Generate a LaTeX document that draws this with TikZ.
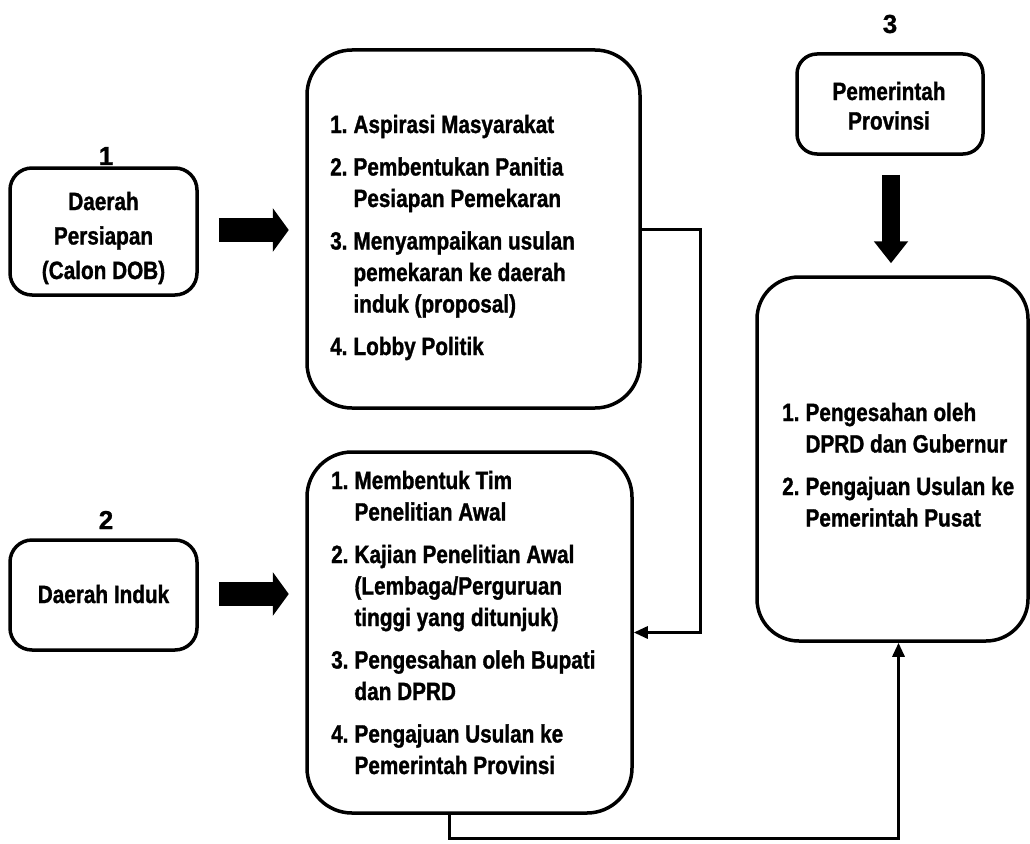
\documentclass[tikz,border=0pt]{standalone}
\usepackage{fontspec}
\setmainfont{Liberation Sans}
\newfontfamily\narbold{Liberation Sans Bold}[FakeStretch=0.83, FakeBold=1.2]
\newfontfamily\widefont{Liberation Sans Bold}[FakeBold=1]
\usetikzlibrary{arrows.meta,calc}
\tikzset{
  box/.style={draw, line width=3.5pt, rounded corners=#1, inner sep=0pt},
  box/.default=40pt,
  txt/.style={inner sep=0pt, font=\fontsize{25}{31.5}\narbold},
  num/.style={inner sep=0pt, font=\fontsize{26}{30}\widefont},
  blockarrow/.style={line width=24pt, -{Triangle[length=16pt,width=43pt]}},
  downarrow/.style={line width=18pt, -{Triangle[length=22pt,width=33pt]}},
  conn/.style={line width=3pt, -{Triangle[length=14pt,width=12pt]}}
}
\begin{document}
\begin{tikzpicture}[x=1pt,y=-1pt]
\useasboundingbox (0,0) rectangle (1030,843);
% boxes
\node[box=22pt, minimum width=187pt, minimum height=127pt] (b1) at (103.5,231.5) {};
\node[box=22pt, minimum width=187pt, minimum height=110pt] (b2) at (103.5,595) {};
\node[box=20pt, minimum width=186pt, minimum height=100pt] (b3) at (890,104) {};
\node[box=45pt, minimum width=333pt, minimum height=358pt] (A) at (473.5,229) {};
\node[box=45pt, minimum width=325pt, minimum height=361pt] (B) at (469.5,632.5) {};
\node[box=42pt, minimum width=271pt, minimum height=364pt] (C) at (892.5,459) {};
% labels
\node[num] (n1) at (106,156) {1};
\node[num] (n2) at (106,520) {2};
\node[num] (n3) at (890,24) {3};
% box texts
\node[txt, anchor=base] (t1) at (103.5,210) {\begin{tabular}[t]{@{}c@{}}Daerah\\[3pt]Persiapan\\[3pt](Calon DOB)\end{tabular}};
\node[txt, anchor=base] (t2) at (103.5,603) {Daerah Induk};
\node[txt, anchor=base] (t3) at (889,100) {\begin{tabular}[t]{@{}c@{}}Pemerintah\\[-2pt]Provinsi\end{tabular}};
\node[txt, anchor=base west] (tA) at (330,133) {\begin{tabular}[t]{@{}l@{\hspace{6pt}}l@{}}
1.&Aspirasi Masyarakat\\[11pt]
2.&Pembentukan Panitia\\
  &Pesiapan Pemekaran\\[11pt]
3.&Menyampaikan usulan\\
  &pemekaran ke daerah\\
  &induk (proposal)\\[11pt]
4.&Lobby Politik
\end{tabular}};
\node[txt, anchor=base west] (tB) at (331,489) {\begin{tabular}[t]{@{}l@{\hspace{6pt}}l@{}}
1.&Membentuk Tim\\
  &Penelitian Awal\\[11pt]
2.&Kajian Penelitian Awal\\
  &(Lembaga/Perguruan\\
  &tinggi yang ditunjuk)\\[11pt]
3.&Pengesahan oleh Bupati\\
  &dan DPRD\\[11pt]
4.&Pengajuan Usulan ke\\
  &Pemerintah Provinsi
\end{tabular}};
\node[txt, anchor=base west] (tC) at (782,421) {\begin{tabular}[t]{@{}l@{\hspace{6pt}}l@{}}
1.&Pengesahan oleh\\
  &DPRD dan Gubernur\\[11pt]
2.&Pengajuan Usulan ke\\
  &Pemerintah Pusat
\end{tabular}};
% block arrows
\draw[blockarrow] ($(b1.east)+(20,-1.5)$) -- ($(b1.east)+(90,-1.5)$);
\draw[blockarrow] ($(b2.east)+(20,-1)$) -- ($(b2.east)+(90,-1)$);
\draw[downarrow] ($(b3.south)+(1,19)$) -- ($(C.north)+(-1.5,-12)$);
% connectors
\draw[conn] (A.east) -- (700,229) |- (B.east);
\coordinate (k1) at (449,838);
\draw[conn] (B.south -| k1) -- (k1) -| ($(C.south)+(6,0)$);
\end{tikzpicture}
\end{document}
